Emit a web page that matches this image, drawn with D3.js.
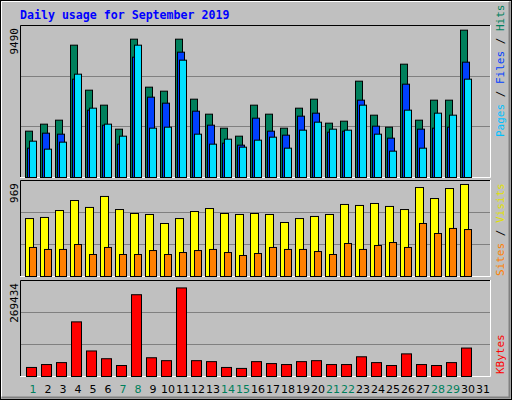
<!DOCTYPE html>
<html><head><meta charset="utf-8">
<script src="https://cdn.jsdelivr.net/npm/d3@7"></script>
<style>body{margin:0;background:#fff}</style></head>
<body><svg id="c" width="512" height="400"></svg>
<script>
const days = d3.range(1,32);
const weekend = [1,7,8,14,15,21,22,28,29];
const hits  = [2893,3330,3579,8262,5452,4516,3017,8636,5640,5390,8636,4890,3954,3080,2580,4516,3954,3080,4328,4890,3392,3517,6014,3891,3142,7075,3579,4828,4828,9198,0];
const files = [1831,2768,2705,6139,4204,3267,2081,7512,5015,4641,7825,4141,3267,2143,2019,3704,2893,2643,3829,4016,2830,2893,4828,3205,2456,5827,3017,3080,3142,7200,0];
const pages = [2268,1769,2206,6451,4328,3330,2580,8262,3080,3142,7325,2705,2081,2393,1894,2331,2518,1831,2955,3454,3017,2955,4516,2705,1644,4204,1831,4016,3891,6139,0];
const visits= [585,596,666,767,697,808,676,636,626,535,585,656,686,636,626,636,626,545,585,606,626,727,717,737,707,676,898,787,888,929,0];
const sites = [293,273,273,323,222,293,222,222,262,222,242,262,273,242,212,232,293,273,273,252,222,333,273,313,343,293,535,434,485,474,0];
const kbytes= [25400,33566,39010,153317,71669,49896,30845,229522,52618,44453,248573,44453,41731,25400,22680,41731,36288,33566,41731,44453,33566,33566,55339,39010,30845,63504,33566,30845,39010,79834,0];
const maxHits=9490, maxVisits=969, maxKB=269434;

const svg=d3.select("#c");
const mono="'DejaVu Sans Mono',monospace";
svg.append("rect").attr("x",0.5).attr("y",0.5).attr("width",511).attr("height",399).attr("fill","#c0c0c0").attr("stroke","#000");
svg.append("path").attr("d","M1.5,397.5V1.5H509").attr("fill","none").attr("stroke","#fff");
svg.append("path").attr("d","M509.5,2V397.5H1.5").attr("fill","none").attr("stroke","#808080").attr("stroke-width",2);
svg.append("text").attr("x",20).attr("y",19).attr("fill","#0000ff").attr("font-family",mono).attr("font-weight","bold").attr("font-size","11.6px").text("Daily usage for September 2019");

const x=d3.scaleLinear().domain([1,32]).range([25,25+15*31]);
function panel(y0,y1,max,label){
  svg.append("path").attr("d",`M20.5,${y1}V${y0+0.5}H490`).attr("fill","none").attr("stroke","#000");
  svg.append("path").attr("d",`M490.5,${y0}V${y1+0.5}H20`).attr("fill","none").attr("stroke","#fff");
  const y=d3.scaleLinear().domain([0,max]).range([y1,y0]);
  [1/3,2/3].forEach(f=>svg.append("line").attr("x1",21).attr("x2",490).attr("y1",Math.round(y(max*f))+0.5).attr("y2",Math.round(y(max*f))+0.5).attr("stroke","#808080"));
  svg.append("text").attr("transform",`translate(18,${y0+3}) rotate(-90)`).attr("text-anchor","end").attr("font-family",mono).attr("font-size","11px").text(label);
  return y;
}
function bars(y,data,off,w,color){
  svg.append("g").selectAll("rect").data(days.filter((d,i)=>data[i]>0)).join("rect")
    .attr("x",d=>x(d)+off+0.5).attr("width",w).attr("y",d=>y(data[d-1])+0.5).attr("height",d=>y(0)-y(data[d-1]))
    .attr("fill",color).attr("stroke","#000");
}
const y1=panel(25,177,maxHits,"9490");
bars(y1,hits,0,7,"#00805c");
bars(y1,files,2,7,"#0040ff");
bars(y1,pages,4,7,"#00e0ff");
const y2=panel(180,276,maxVisits,"969");
bars(y2,visits,0,8,"#ffff00");
bars(y2,sites,4,7,"#ff8000");
const y3=panel(280,376,maxKB,"269434");
bars(y3,kbytes,1,10,"#ff0000");

function rlabel(yb,parts){
  const t=svg.append("text").attr("transform",`translate(504,${yb}) rotate(-90)`).attr("font-family",mono).attr("font-size","11px");
  parts.forEach(p=>t.append("tspan").attr("fill",p[1]).text(p[0]));
}
rlabel(137,[["Pages","#00c0ff"],[" / ","#000"],["Files","#0040ff"],[" / ","#000"],["Hits","#00805c"]]);
rlabel(276,[["Sites","#ff8000"],[" / ","#000"],["Visits","#e0e000"]]);
rlabel(374,[["KBytes","#ff0000"]]);

svg.append("g").selectAll("text").data(days).join("text")
  .attr("x",d=>x(d)+8).attr("y",393).attr("text-anchor","middle")
  .attr("font-family","'DejaVu Sans',sans-serif").attr("font-size","11px")
  .attr("fill",d=>weekend.includes(d)?"#00805c":"#000").text(d=>d);
</script></body></html>
